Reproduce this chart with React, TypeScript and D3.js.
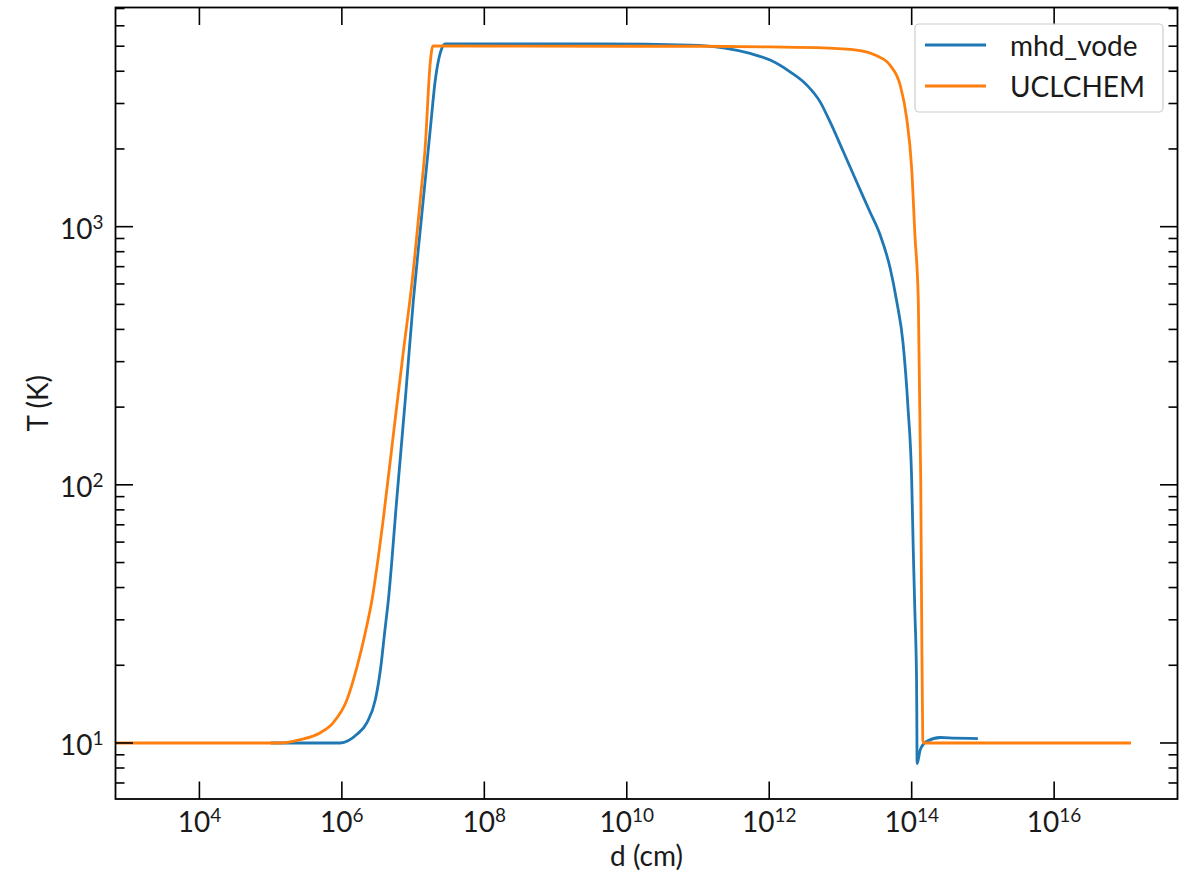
import React from "react";
import * as d3 from "d3";

// distance (cm) and temperature (K)
const dBlue = [1e5, 9.5e5, 1.63e6, 2.25e6, 2.95e6, 3.52e6, 4.0e6, 4.53e6, 5.89e6, 7.76e6, 1.01e7, 1.26e7, 1.74e7, 2.05e7, 2.41e7, 2.83e7, 4.24e9, 7.74e10, 2.27e11, 5.38e11, 1.03e12, 1.96e12, 3.36e12, 5.16e12, 7.13e12, 1.1e13, 1.69e13, 2.6e13, 3.61e13, 4.99e13, 6.17e13, 7.56e13, 8.89e13, 1.0e14, 1.05e14, 1.11e14, 1.17e14, 1.18e14, 1.185e14, 1.19e14, 1.32e14, 1.64e14, 2.52e14, 4e14, 8.5e14];
const tBlue = [10, 10, 10.8, 12.0, 14.7, 19.7, 27.0, 36.5, 87.5, 213, 520, 970, 2370, 3700, 4710, 5100, 5100, 5050, 4930, 4690, 4420, 3980, 3540, 3050, 2550, 1950, 1490, 1140, 929, 690, 513, 355, 198, 104.5, 57.5, 31.9, 17.6, 13.1, 10.3, 8.3, 9.42, 10.15, 10.5, 10.45, 10.4];

const dOrange = [1e2, 1e4, 1.37e5, 2.61e5, 4.99e5, 7.59e5, 1.18e6, 1.63e6, 2.13e6, 2.65e6, 3.85e6, 5.32e6, 7.35e6, 9.64e6, 1.26e7, 1.48e7, 1.74e7, 1.9e7, 1e10, 1e11, 1e12, 5.76e12, 1.69e13, 3.23e13, 4.97e13, 6.9e13, 8.51e13, 1.0e14, 1.11e14, 1.24e14, 1.34e14, 1.38e14, 1.43e14, 1.49e14, 1e16, 1.2e17];
const tOrange = [10, 10, 10, 10.3, 10.96, 12.0, 14.7, 19.7, 26.7, 35.9, 75.2, 159, 333, 606, 1270, 2040, 4310, 5010, 5000, 5000, 4970, 4930, 4830, 4590, 4220, 3530, 2630, 1680, 929, 513, 104, 31.9, 10.3, 10, 10, 10];

const seriesNames = ["mhd_vode", "UCLCHEM"];
const seriesColors = ["#1f77b4", "#ff7f0e"];

const xExp = [4, 6, 8, 10, 12, 14, 16];
const yExp = [1, 2, 3];
const yMinor = [7, 8, 9, 20, 30, 40, 50, 60, 70, 80, 90, 200, 300, 400, 500, 600, 700, 800, 900, 2000, 3000, 4000, 5000, 6000, 7000];

const W = 1200;
const H = 884;
const m = { left: 115.5, right: 1177.5, top: 7.5, bottom: 799 };
const font = "Lato, 'DejaVu Sans', sans-serif";

export default function App() {
  const x = d3.scaleLog().domain([Math.pow(10, 2.822), Math.pow(10, 17.732)]).range([m.left, m.right]);
  const y = d3.scaleLog().domain([Math.pow(10, 0.783), Math.pow(10, 3.849)]).range([m.bottom, m.top]);

  const line = d3
    .line<[number, number]>()
    .x((p) => x(p[0]))
    .y((p) => y(p[1]))
    .curve(d3.curveMonotoneX);

  const blue = dBlue.map((d, i) => [d, tBlue[i]] as [number, number]);
  const orange = dOrange.map((d, i) => [d, tOrange[i]] as [number, number]);

  const major = 17.5;
  const minor = 9;

  return (
    <div style={{ position: "absolute", left: 0, top: 0 }}>
      <svg width={W} height={H} style={{ display: "block", background: "#fff" }}>
        <defs>
          <clipPath id="plot">
            <rect x={m.left} y={m.top} width={m.right - m.left} height={m.bottom - m.top} />
          </clipPath>
        </defs>

        <g clipPath="url(#plot)" fill="none" strokeWidth={2.8} strokeLinejoin="round" strokeLinecap="butt">
          <path d={line(blue) || ""} stroke={seriesColors[0]} />
          <path d={line(orange) || ""} stroke={seriesColors[1]} />
        </g>

        {/* ticks, pointing inward on all sides */}
        <g stroke="#000" strokeWidth={1.6}>
          {xExp.map((e) => {
            const px = x(Math.pow(10, e));
            return (
              <g key={"xt" + e}>
                <line x1={px} x2={px} y1={m.bottom} y2={m.bottom - major} />
                <line x1={px} x2={px} y1={m.top} y2={m.top + major} />
              </g>
            );
          })}
          {yExp.map((e) => {
            const py = y(Math.pow(10, e));
            return (
              <g key={"yt" + e}>
                <line x1={m.left} x2={m.left + major} y1={py} y2={py} />
                <line x1={m.right} x2={m.right - major} y1={py} y2={py} />
              </g>
            );
          })}
          {yMinor.map((v) => {
            const py = y(v);
            return (
              <g key={"ym" + v}>
                <line x1={m.left} x2={m.left + minor} y1={py} y2={py} />
                <line x1={m.right} x2={m.right - minor} y1={py} y2={py} />
              </g>
            );
          })}
        </g>

        <rect x={m.left} y={m.top} width={m.right - m.left} height={m.bottom - m.top} fill="none" stroke="#000" strokeWidth={1.8} />

        <g fontFamily={font} fill="#1a1a1a">
          {xExp.map((e) => (
            <text key={"xl" + e} x={x(Math.pow(10, e))} y={m.bottom + 33} textAnchor="middle" fontSize={28}>
              <tspan>10</tspan>
              <tspan dy={-10} fontSize={19}>{e}</tspan>
            </text>
          ))}
          {yExp.map((e) => (
            <text key={"yl" + e} x={m.left - 12} y={y(Math.pow(10, e)) + 12} textAnchor="end" fontSize={28}>
              <tspan>10</tspan>
              <tspan dy={-10} fontSize={19}>{e}</tspan>
            </text>
          ))}
          <text x={(m.left + m.right) / 2} y={866} textAnchor="middle" fontSize={28}>
            d (cm)
          </text>
          <text transform={`translate(48, ${(m.top + m.bottom) / 2}) rotate(-90)`} textAnchor="middle" fontSize={28}>
            T (K)
          </text>
        </g>

        {/* legend */}
        <g>
          <rect x={915} y={24} width={248} height={88} rx={4} fill="#fff" fillOpacity={0.8} stroke="#cccccc" strokeWidth={1.2} />
          {seriesNames.map((name, i) => {
            const ly = 45 + i * 41;
            return (
              <g key={name}>
                <line x1={925} x2={986} y1={ly} y2={ly} stroke={seriesColors[i]} strokeWidth={2.8} />
                <text x={1010} y={ly + 10.5} fontFamily={font} fontSize={28} fill="#1a1a1a">
                  {name}
                </text>
              </g>
            );
          })}
        </g>
      </svg>
    </div>
  );
}
